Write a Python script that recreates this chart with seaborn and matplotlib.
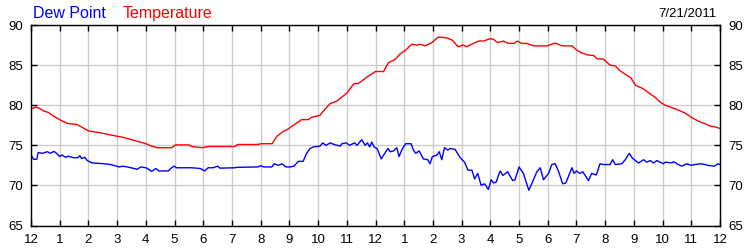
import matplotlib
matplotlib.use("Agg")
import matplotlib.pyplot as plt
import seaborn as sns
import pandas as pd

temp_hours = [0.0, 0.15, 0.25, 0.43, 0.6, 0.8, 0.95, 1.1, 1.3, 1.6, 1.8, 2.0, 2.35, 2.75, 3.2, 3.7,
              4.0, 4.2, 4.4, 4.9, 5.03, 5.5, 5.6, 5.95, 6.2, 7.1, 7.2, 7.93, 8.0, 8.4, 8.56, 8.79,
              8.9, 9.14, 9.43, 9.66, 9.78, 10.07, 10.18, 10.42, 10.65, 11.0, 11.25, 11.4, 11.7, 12.0,
              12.28, 12.45, 12.68, 12.86, 13.03, 13.26, 13.45, 13.55, 13.73, 13.96, 14.19, 14.48,
              14.68, 14.87, 15.06, 15.18, 15.35, 15.59, 15.76, 16.0, 16.12, 16.25, 16.45, 16.63,
              16.82, 16.94, 17.1, 17.28, 17.5, 18.0, 18.2, 18.3, 18.49, 18.84, 19.0, 19.19, 19.42,
              19.6, 19.71, 19.94, 20.17, 20.35, 20.52, 20.75, 20.9, 21.05, 21.3, 21.57, 21.74,
              21.91, 22.09, 22.32, 22.55, 22.79, 23.0, 23.25, 23.48, 23.65, 23.83, 24.0]
temp_values = [79.5, 79.75, 79.7, 79.3, 79.1, 78.6, 78.3, 78.0, 77.7, 77.6, 77.2, 76.8, 76.6, 76.3, 76.0, 75.5,
               75.2, 74.9, 74.7, 74.7, 75.05, 75.05, 74.85, 74.7, 74.85, 74.85, 75.1, 75.1, 75.2, 75.2, 76.1, 76.75,
               76.9, 77.5, 78.2, 78.2, 78.5, 78.75, 79.25, 80.2, 80.5, 81.5, 82.7, 82.7, 83.5, 84.2,
               84.2, 85.3, 85.7, 86.4, 86.8, 87.6, 87.5, 87.6, 87.4, 87.8, 88.5, 88.4,
               88.1, 87.3, 87.5, 87.3, 87.6, 88.0, 88.0, 88.3, 88.2, 87.8, 88.0, 87.7,
               87.7, 88.0, 87.7, 87.7, 87.4, 87.4, 87.7, 87.7, 87.4, 87.4, 86.9, 86.5, 86.25,
               86.2, 85.8, 85.75, 85.0, 84.9, 84.3, 83.75, 83.4, 82.5, 82.1, 81.4, 81.0,
               80.4, 80.0, 79.7, 79.4, 79.0, 78.5, 78.0, 77.7, 77.4, 77.3, 77.1]

dew_hours = [0.0, 0.09, 0.2, 0.25, 0.4, 0.57, 0.68, 0.8, 0.89, 1.0, 1.08, 1.2, 1.3, 1.48, 1.63, 1.7, 1.76,
             1.87, 1.96, 2.13, 2.55, 2.78, 3.07, 3.19, 3.36, 3.6, 3.69, 3.83, 4.0, 4.1, 4.2, 4.35, 4.45,
             4.78, 4.9, 4.99, 5.07, 5.6, 5.9, 6.05, 6.17, 6.35, 6.5, 6.58, 7.1, 7.16, 7.9, 8.0, 8.1,
             8.39, 8.47, 8.62, 8.74, 8.88, 9.02, 9.16, 9.31, 9.48, 9.6, 9.72, 9.84, 10.07, 10.16, 10.28,
             10.42, 10.56, 10.77, 10.83, 10.98, 11.1, 11.27, 11.36, 11.52, 11.64, 11.72, 11.8, 11.87,
             11.95, 12.05, 12.1, 12.2, 12.43, 12.51, 12.63, 12.74, 12.82, 12.94, 13.05, 13.24, 13.32,
             13.4, 13.52, 13.67, 13.82, 13.9, 13.98, 14.13, 14.22, 14.31, 14.4, 14.52, 14.6, 14.77,
             14.94, 15.1, 15.22, 15.36, 15.45, 15.56, 15.68, 15.8, 15.93, 16.03, 16.12, 16.2, 16.34,
             16.44, 16.6, 16.78, 16.86, 17.0, 17.15, 17.25, 17.34, 17.44, 17.62, 17.74, 17.85, 18.03,
             18.14, 18.26, 18.38, 18.52, 18.63, 18.84, 18.92, 19.0, 19.12, 19.22, 19.42, 19.53, 19.69,
             19.82, 19.94, 20.0, 20.17, 20.26, 20.35, 20.58, 20.7, 20.84, 20.95, 21.16, 21.34, 21.45,
             21.57, 21.68, 21.8, 21.91, 22.03, 22.09, 22.32, 22.38, 22.55, 22.67, 22.84, 23.0, 23.12,
             23.35, 23.58, 23.81, 23.93, 24.0]
dew_values = [73.8, 73.25, 73.25, 74.1, 74.0, 74.2, 74.0, 74.25, 74.0, 73.6, 73.8, 73.5, 73.65, 73.45, 73.45, 73.7, 73.35,
              73.5, 73.1, 72.8, 72.7, 72.6, 72.3, 72.4, 72.3, 72.1, 72.0, 72.3, 72.2, 72.0, 71.75, 72.1, 71.8,
              71.8, 72.2, 72.4, 72.2, 72.2, 72.1, 71.8, 72.2, 72.2, 72.4, 72.15, 72.2, 72.25, 72.3, 72.45, 72.3,
              72.3, 72.7, 72.5, 72.7, 72.3, 72.3, 72.4, 73.0, 73.0, 74.0, 74.6, 74.8, 74.9, 75.3, 75.0,
              75.3, 75.1, 74.9, 75.2, 75.3, 75.0, 75.3, 75.0, 75.7, 75.0, 75.3, 74.8, 75.4,
              74.8, 74.6, 74.2, 73.3, 74.6, 74.2, 74.3, 74.7, 73.6, 74.6, 75.2, 75.2, 74.4,
              74.0, 74.3, 73.3, 73.2, 72.7, 73.6, 73.75, 74.2, 73.2, 74.7, 74.4, 74.6, 74.5,
              73.5, 72.9, 71.9, 71.9, 70.8, 71.5, 70.0, 70.2, 69.5, 70.7, 70.3, 70.4, 71.8,
              71.25, 71.7, 70.6, 70.7, 72.3, 71.5, 70.4, 69.4, 70.2, 71.7, 72.2, 70.7, 71.5,
              72.6, 72.7, 71.7, 70.2, 70.3, 72.2, 71.5, 71.8, 71.5, 71.7, 70.6, 71.5, 71.3,
              72.7, 72.6, 72.6, 72.6, 73.2, 72.6, 72.7, 73.2, 74.0, 73.4, 72.8, 73.2, 72.9,
              73.1, 72.8, 73.1, 72.9, 72.7, 72.9, 72.8, 72.95, 72.6, 72.4, 72.7, 72.5, 72.6,
              72.7, 72.5, 72.4, 72.7, 72.6]

hour_ticks = list(range(0, 25))
hour_labels = ["12", "1", "2", "3", "4", "5", "6", "7", "8", "9", "10", "11",
               "12", "1", "2", "3", "4", "5", "6", "7", "8", "9", "10", "11", "12"]
y_ticks = [65, 70, 75, 80, 85, 90]

sns.set_style("white")
plt.rcParams["font.family"] = ["Liberation Sans", "DejaVu Sans"]

temp_df = pd.DataFrame({"hour": temp_hours, "value": temp_values})
dew_df = pd.DataFrame({"hour": dew_hours, "value": dew_values})

fig = plt.figure(figsize=(7.5, 2.5), dpi=100)
ax = fig.add_axes([31 / 750, 1 - 225.5 / 250, (720 - 31) / 750, (225.5 - 25) / 250])

sns.lineplot(data=dew_df, x="hour", y="value", ax=ax, color="#0000ff", linewidth=1.0,
             estimator=None, sort=False)
sns.lineplot(data=temp_df, x="hour", y="value", ax=ax, color="#ff0000", linewidth=1.0,
             estimator=None, sort=False)

ax.set_xlim(0, 24)
ax.set_ylim(65, 90)
ax.set_xticks(hour_ticks)
ax.set_xticklabels(hour_labels)
ax.set_yticks(y_ticks)
ax.set_yticklabels([str(v) for v in y_ticks])
ax.set_xlabel("")
ax.set_ylabel("")
ax.grid(True, color="#cccccc", linewidth=1.0)
ax.set_axisbelow(True)
for s in ax.spines.values():
    s.set_color("black")
    s.set_linewidth(1.0)
    s.set_visible(True)

ax.tick_params(axis="both", direction="in", length=4, width=1, color="black",
               labelsize=9.5, labelcolor="black")
ax.tick_params(axis="x", top=True, bottom=True, pad=6)
ax.tick_params(axis="y", left=True, right=True, labelleft=True, labelright=True, pad=6)

fig.text(33 / 750, 1 - 17.7 / 250, "Dew Point", color="#0000ff", fontsize=11.5, va="baseline", ha="left")
fig.text(123 / 750, 1 - 17.7 / 250, "Temperature", color="#ff0000", fontsize=11.5, va="baseline", ha="left")
fig.text(717 / 750, 1 - 16.7 / 250, "7/21/2011", color="black", fontsize=9.5, va="baseline", ha="right")

fig.savefig("out.png", dpi=100, facecolor="white")
